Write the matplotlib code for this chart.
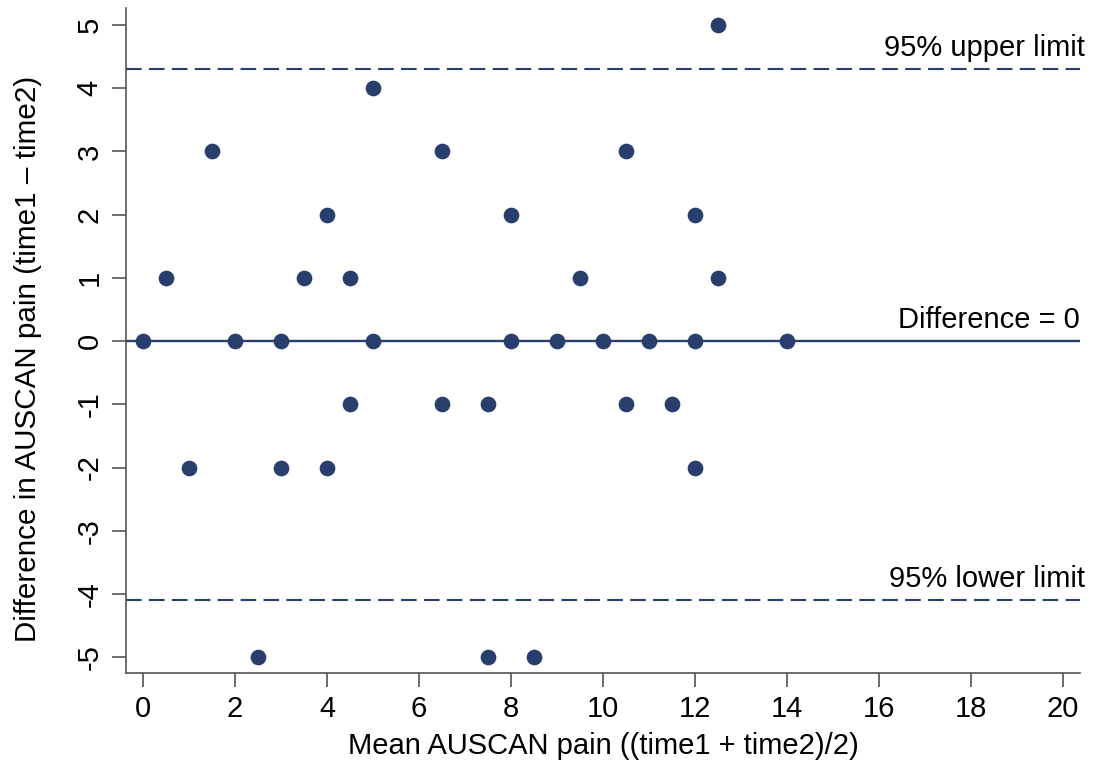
import matplotlib
matplotlib.use('Agg')
from matplotlib import pyplot as plt

plt.rcParams['font.family'] = ['Liberation Sans', 'DejaVu Sans']
plt.rcParams['axes.unicode_minus'] = False

# data: mean and difference of AUSCAN pain
mean_pain = [0, 0.5, 1, 1.5, 2, 2.5, 3, 3, 3.5, 4, 4, 4.5, 4.5, 5, 5,
             6.5, 6.5, 7.5, 7.5, 8, 8, 8.5, 9, 9.5, 10, 10.5, 10.5, 11,
             11.5, 12, 12, 12, 12.5, 12.5, 14]
diff_pain = [0, 1, -2, 3, 0, -5, 0, -2, 1, 2, -2, 1, -1, 4, 0,
             3, -1, -1, -5, 2, 0, -5, 0, 1, 0, 3, -1, 0,
             -1, 2, 0, -2, 5, 1, 0]
upper_limit = 4.3
lower_limit = -4.1
x_ticks = list(range(0, 21, 2))
y_ticks = list(range(-5, 6))

navy = '#283f6e'
grey = '#555555'

fig = plt.figure(figsize=(11.04, 7.61), dpi=100)
ax = fig.add_axes([126 / 1104, 88 / 761, (1080 - 126) / 1104, (673 - 8) / 761])

ax.axhline(0, color=navy, lw=1.7, zorder=1)
ax.axhline(upper_limit, color=navy, lw=1.5, linestyle=(0, (7.5, 3.5)), zorder=1)
ax.axhline(lower_limit, color=navy, lw=1.5, linestyle=(0, (7.5, 3.5)), zorder=1)
ax.plot(mean_pain, diff_pain, 'o', color=navy, markersize=10.3, zorder=2)

ax.text(1.005, upper_limit + 0.12, '95% upper limit', transform=ax.get_yaxis_transform(),
        ha='right', va='bottom', fontsize=21)
ax.text(1.005, lower_limit + 0.12, '95% lower limit', transform=ax.get_yaxis_transform(),
        ha='right', va='bottom', fontsize=21)
ax.text(1.0, 0.12, 'Difference = 0', transform=ax.get_yaxis_transform(),
        ha='right', va='bottom', fontsize=21)

ax.set_xlim(-0.37, 20.37)
ax.set_ylim(-5.25, 5.27)
ax.set_xticks(x_ticks)
ax.set_yticks(y_ticks)
ax.tick_params(axis='both', length=10, width=1.2, color=grey, labelsize=21, pad=6)
for lab in ax.get_yticklabels():
    lab.set_rotation(90)
    lab.set_va('center')

for side in ['top', 'right']:
    ax.spines[side].set_visible(False)
for side in ['left', 'bottom']:
    ax.spines[side].set_color(grey)
    ax.spines[side].set_linewidth(1.2)

ax.set_xlabel('Mean AUSCAN pain ((time1 + time2)/2)', fontsize=21, labelpad=6)
ax.set_ylabel('Difference in AUSCAN pain (time1 \u2013 time2)', fontsize=21.3)
ax.yaxis.set_label_coords(-0.088, 0.473)

plt.savefig('out.png', dpi=100)
